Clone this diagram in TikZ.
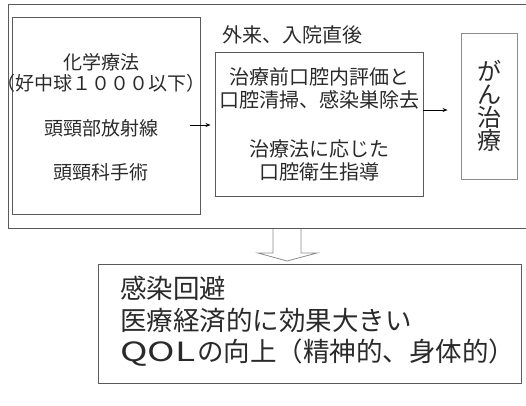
\documentclass[tikz,border=0pt]{standalone}
\usepackage{fontspec}
\usepackage{graphicx}
\setmainfont{Noto Sans CJK JP}
\usetikzlibrary{arrows.meta}
\definecolor{framegray}{HTML}{5A5A5A}
\definecolor{lightframe}{HTML}{8C8C8C}
\definecolor{txt}{HTML}{2A2A2A}
\tikzset{
  box/.style={draw=framegray, line width=0.9pt, rectangle, inner sep=0pt, text=txt},
  conn/.style={-{Stealth[length=5pt,width=4pt]}, line width=0.9pt, draw=black},
}
\begin{document}
\begin{tikzpicture}[x=1pt,y=-1pt]
\clip (0,0) rectangle (526,405);
\useasboundingbox (0,0) rectangle (526,405);
% outer frame (runs off the right edge)
\draw[framegray, line width=0.9pt] (540,4) -- (8,4) -- (8,228) -- (540,228);
% left box
\node[box, minimum width=188pt, minimum height=197pt] (left) at (106,115.5) {};
\node[inner sep=0pt, align=center, text=txt, font=\fontsize{19}{21.5}\selectfont] (lefttxt) at (101,117.5)
  {化学療法\\（好中球１０００以下）\\[23pt]頭頸部放射線\\[23pt]頭頸科手術};
% middle box
\node[box, minimum width=208pt, minimum height=144pt, align=center,
      font=\fontsize{20}{23}\selectfont] (mid) at (319,124)
  {治療前口腔内評価と\\口腔清掃、感染巣除去\\[26pt]治療法に応じた\\口腔衛生指導};
% label above middle box
\node[anchor=west, inner sep=0pt, text=txt, font=\fontsize{20}{23}\selectfont] (lbl) at (222,35) {外来、入院直後};
% right box
\node[box, draw=lightframe, minimum width=56pt, minimum height=146pt, align=center,
      font=\fontsize{24}{23}\selectfont] (right) at (489,106)
  {が\\ん\\治\\療};
% connectors
\draw[conn, shorten >=4pt] ([xshift=-10pt,yshift=-1pt]left.east |- mid.west) -- ([yshift=-1pt]mid.west);
\draw[conn, shorten >=13pt] ([yshift=14pt]mid.east) -- ([yshift=-4pt]right.west);
% block arrow down
\draw[lightframe, line width=0.8pt, fill=white]
  (273,229) -- (273,253) -- (258,253) -- (287,261) -- (317,253) -- (301,253) -- (301,229);
% bottom box
\node[box, minimum width=423pt, minimum height=119pt] (result) at (309.5,323.5) {};
\node[anchor=west, inner sep=0pt, align=left, text=txt,
      font=\fontsize{26.5}{31.5}\selectfont] (resulttxt) at (120,321.5)
  {感染回避\\医療経済的に効果大きい\\\scalebox{1.4}[1]{QOL}\hspace{2pt}の向上（精神的、身体的）};
\end{tikzpicture}
\end{document}
